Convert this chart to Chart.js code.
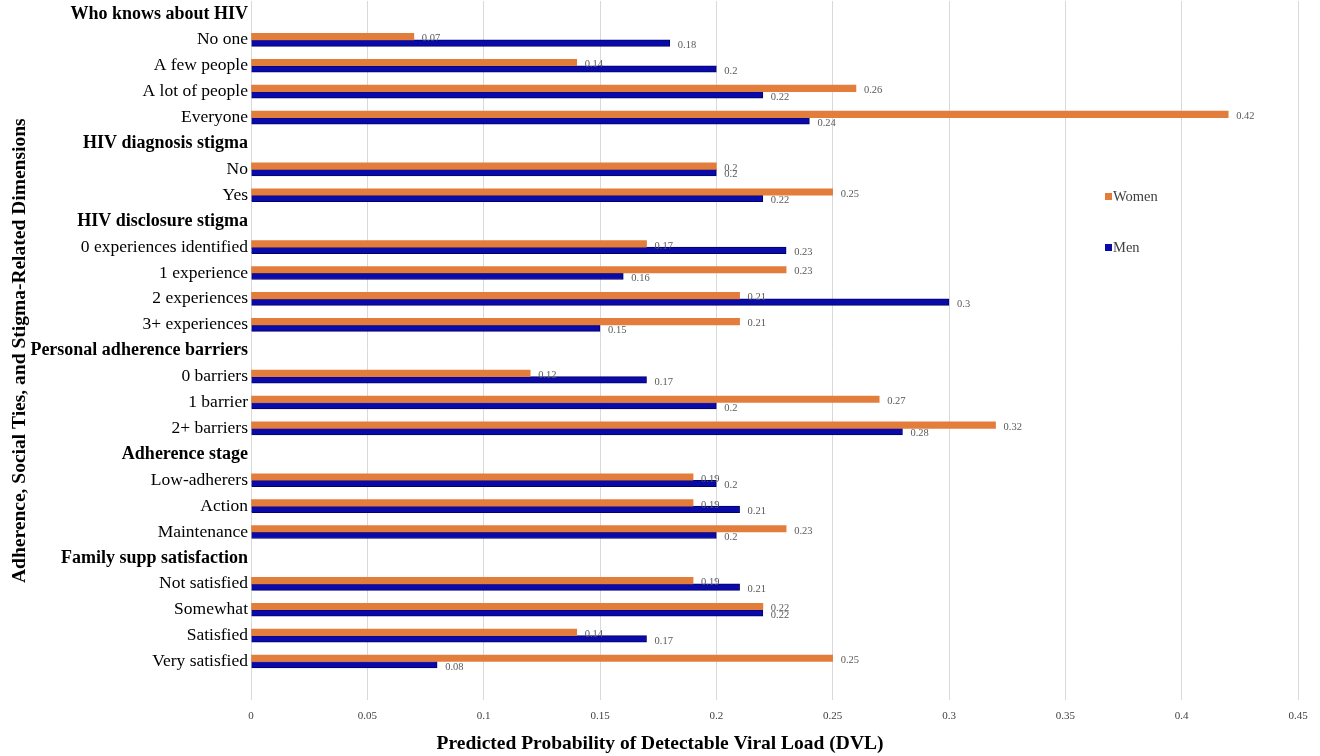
<!DOCTYPE html>
<html>
<head>
<meta charset="utf-8">
<script src="https://cdn.jsdelivr.net/npm/chart.js@4.4.1/dist/chart.umd.min.js"></script>
<style>
  html, body { margin: 0; padding: 0; background: #fff; }
  #wrap { position: relative; width: 1320px; height: 756px; }
  .legend-item { position: absolute; font: 14.5px "Liberation Serif", serif; color: #404040; line-height: 16px; }
  .legend-item span { display: inline-block; width: 7px; height: 7px; margin-right: 1px; vertical-align: 1px; }
</style>
</head>
<body>
<div id="wrap">
  <canvas id="chart" width="1320" height="756"></canvas>
  <div class="legend-item" style="left:1105px; top:188px;"><span style="background:#e37d3c"></span>Women</div>
  <div class="legend-item" style="left:1105px; top:239px;"><span style="background:#0a0aa8"></span>Men</div>
</div>
<script>
// rows of the y axis, group headers are empty rows
const categories = [
  'Who knows about HIV', 'No one', 'A few people', 'A lot of people', 'Everyone',
  'HIV diagnosis stigma', 'No', 'Yes',
  'HIV disclosure stigma', '0 experiences identified', '1 experience', '2 experiences', '3+ experiences',
  'Personal adherence barriers', '0 barriers', '1 barrier', '2+ barriers',
  'Adherence stage', 'Low-adherers', 'Action', 'Maintenance',
  'Family supp satisfaction', 'Not satisfied', 'Somewhat', 'Satisfied', 'Very satisfied',
  ''
]
const groupHeaders = ['Who knows about HIV', 'HIV diagnosis stigma', 'HIV disclosure stigma',
  'Personal adherence barriers', 'Adherence stage', 'Family supp satisfaction']

const women = [
  null, 0.07, 0.14, 0.26, 0.42,
  null, 0.2, 0.25,
  null, 0.17, 0.23, 0.21, 0.21,
  null, 0.12, 0.27, 0.32,
  null, 0.19, 0.19, 0.23,
  null, 0.19, 0.22, 0.14, 0.25,
  null
]
const men = [
  null, 0.18, 0.2, 0.22, 0.24,
  null, 0.2, 0.22,
  null, 0.23, 0.16, 0.3, 0.15,
  null, 0.17, 0.2, 0.28,
  null, 0.2, 0.21, 0.2,
  null, 0.21, 0.22, 0.17, 0.08,
  null
]
const xTicks = [0, 0.05, 0.1, 0.15, 0.2, 0.25, 0.3, 0.35, 0.4, 0.45]

// value labels just right of every bar
const valueLabels = {
  id: 'valueLabels',
  afterDatasetsDraw(chart) {
    const ctx = chart.ctx
    ctx.save()
    ctx.font = '10.5px "Liberation Serif", serif'
    ctx.fillStyle = '#595959'
    ctx.textBaseline = 'middle'
    ctx.textAlign = 'left'
    chart.data.datasets.forEach((ds, i) => {
      chart.getDatasetMeta(i).data.forEach((bar, j) => {
        const v = ds.data[j]
        if (v === null) return
        ctx.fillText(String(v), bar.x + 8, bar.y + 2)
      })
    })
    ctx.restore()
  }
}

new Chart(document.getElementById('chart'), {
  type: 'bar',
  data: {
    labels: categories,
    datasets: [
      {
        label: 'Women',
        data: women,
        backgroundColor: '#e37d3c',
        borderWidth: 0,
        barThickness: 6.5
      }, {
        label: 'Men',
        data: men,
        backgroundColor: '#0a0aa8',
        borderColor: '#00006a',
        borderWidth: 1,
        barThickness: 6.5
      }]
  },
  plugins: [valueLabels],
  options: {
    indexAxis: 'y',
    responsive: false,
    animation: false,
    layout: { padding: { top: 1, right: 0, bottom: 0, left: 0 } },
    plugins: {
      legend: { display: false },
      tooltip: { enabled: false },
      title: {
        display: true,
        position: 'bottom',
        text: 'Predicted Probability of Detectable Viral Load (DVL)',
        color: '#000',
        font: { family: '"Liberation Serif", serif', size: 19.5, weight: 'bold' },
        padding: { top: 1, bottom: 0 }
      }
    },
    scales: {
      x: {
        min: 0,
        max: 0.45,
        afterBuildTicks: (scale) => { scale.ticks = xTicks.map(v => ({ value: v })) },
        afterFit: (scale) => { scale.paddingRight = 22 },
        grid: { color: '#d9d9d9', drawTicks: false },
        border: { display: false },
        ticks: {
          padding: 9,
          color: '#404040',
          font: { family: '"Liberation Serif", serif', size: 11 },
          callback: (v) => String(parseFloat(v.toFixed(2)))
        }
      },
      y: {
        afterFit: (scale) => {
          scale.width = 251
          scale.paddingTop = 0
          scale.paddingBottom = 0
        },
        grid: { display: false, drawTicks: false, tickLength: 0 },
        border: { display: false },
        ticks: {
          autoSkip: false,
          padding: 3,
          color: '#000',
          font: (c) => {
            const lbl = categories[c.index]
            return groupHeaders.includes(lbl)
              ? { family: '"Liberation Serif", serif', size: 18, weight: 'bold' }
              : { family: '"Liberation Serif", serif', size: 17.5 }
          }
        },
        title: {
          display: true,
          text: 'Adherence, Social Ties, and Stigma-Related Dimensions',
          color: '#000',
          font: { family: '"Liberation Serif", serif', size: 19.5, weight: 'bold' },
          padding: { top: 8, bottom: 0 }
        }
      }
    }
  }
})
</script>
</body>
</html>
